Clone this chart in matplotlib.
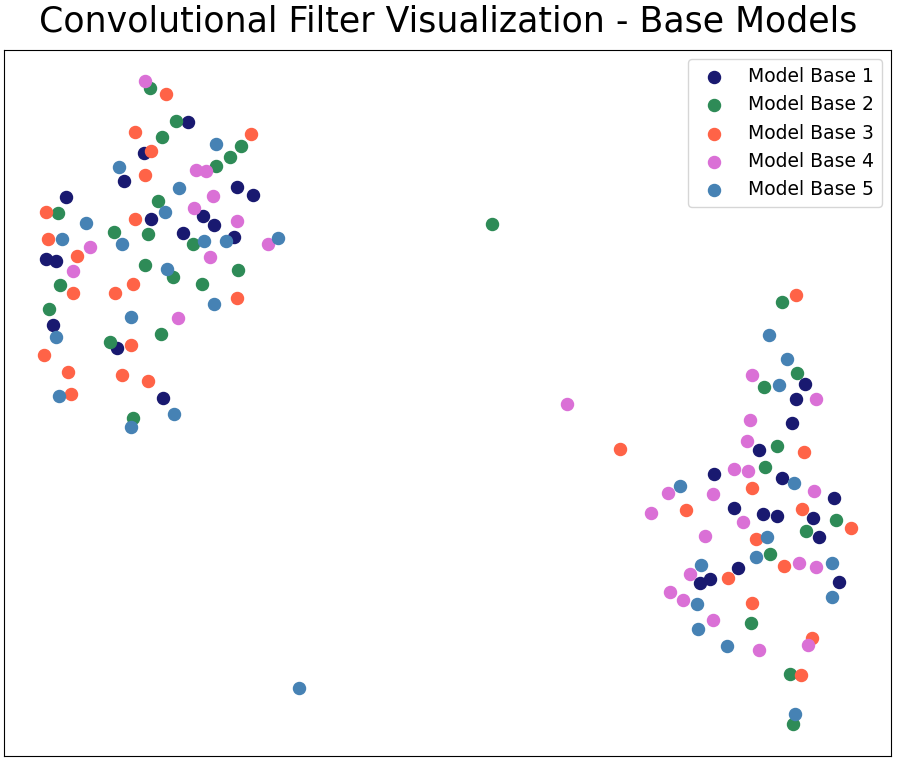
import matplotlib.pyplot as plt

# embedding coordinates (screen-like units, y grows downward)
base1_x = [188, 144, 124, 237, 253, 66, 203, 151, 214, 183, 234, 46, 56, 53, 117, 163,
           805, 796, 792, 759, 714, 782, 734, 763, 777, 813, 834, 819, 738, 710, 700, 839]
base1_y = [122, 153, 181, 187, 195, 197, 216, 219, 225, 233, 237, 259, 261, 325, 348, 398,
           384, 399, 423, 450, 474, 478, 508, 514, 516, 518, 498, 537, 568, 579, 583, 582]

base2_x = [150, 176, 162, 241, 230, 216, 158, 58, 114, 148, 193, 145, 238, 173, 60, 202,
           49, 161, 110, 133, 492,
           782, 797, 764, 777, 765, 836, 806, 770, 751, 790, 793]
base2_y = [88, 121, 137, 146, 157, 166, 201, 213, 232, 234, 244, 265, 270, 277, 285, 284,
           309, 334, 342, 418, 224,
           302, 373, 387, 446, 467, 520, 531, 554, 623, 674, 724]

base3_x = [166, 135, 251, 151, 145, 46, 135, 48, 77, 133, 73, 115, 237, 131, 44, 68,
           122, 148, 71, 620,
           796, 804, 752, 686, 802, 851, 756, 784, 728, 752, 812, 801]
base3_y = [94, 132, 134, 151, 175, 212, 219, 239, 256, 284, 293, 293, 298, 345, 355, 372,
           375, 381, 394, 449,
           295, 452, 488, 510, 509, 528, 539, 566, 578, 603, 638, 675]

base4_x = [145, 196, 206, 213, 194, 237, 268, 90, 210, 73, 178, 567,
           752, 816, 750, 747, 734, 748, 668, 713, 814, 651, 743, 705, 799, 816, 690,
           670, 683, 713, 808, 759]
base4_y = [81, 170, 171, 196, 208, 221, 244, 247, 257, 271, 318, 404,
           375, 399, 420, 441, 469, 471, 493, 494, 491, 513, 522, 536, 563, 567, 574,
           592, 600, 620, 645, 650]

base5_x = [216, 119, 179, 165, 86, 62, 204, 226, 278, 122, 167, 214, 131, 56, 59, 174,
           131, 299,
           769, 787, 779, 794, 680, 767, 756, 701, 832, 697, 832, 698, 727, 795]
base5_y = [144, 167, 188, 212, 223, 239, 241, 241, 238, 244, 269, 304, 317, 337, 396, 414,
           427, 688,
           335, 359, 385, 483, 486, 537, 557, 565, 563, 604, 597, 629, 646, 714]

labels = ["Model Base 1", "Model Base 2", "Model Base 3", "Model Base 4", "Model Base 5"]
colors = ["midnightblue", "seagreen", "tomato", "orchid", "steelblue"]
xs = [base1_x, base2_x, base3_x, base4_x, base5_x]
ys = [base1_y, base2_y, base3_y, base4_y, base5_y]

fig = plt.figure(figsize=(8.97, 7.62), dpi=100)
ax = fig.add_axes([4 / 897, 6 / 762, 887 / 897, 706 / 762])
for x, y, c, lab in zip(xs, ys, colors, labels):
    ax.scatter(x, y, s=75, color=c, label=lab)

ax.set_xlim(4, 891)
ax.set_ylim(756, 50)
ax.set_xticks([])
ax.set_yticks([])
ax.legend(loc="upper right", fontsize=13.5)
fig.text(0.5, 1 - 21 / 762, "Convolutional Filter Visualization - Base Models",
         ha="center", va="center", fontsize=25)

plt.savefig("out.png", dpi=100)
